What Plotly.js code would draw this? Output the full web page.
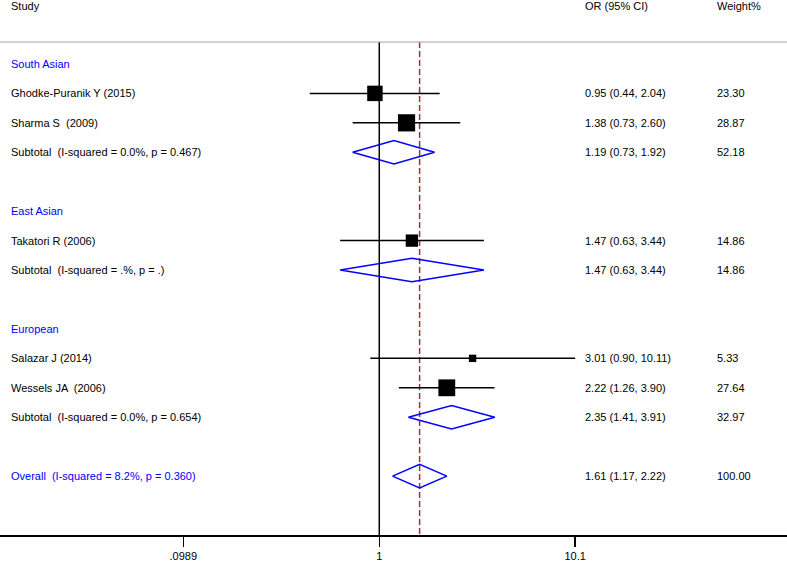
<!DOCTYPE html>
<html>
<head>
<meta charset="utf-8">
<script src="https://cdn.plot.ly/plotly-3.0.1.min.js"></script>
<style>
html,body{margin:0;padding:0;background:#fff;}
#chart{width:787px;height:561px;}
</style>
</head>
<body>
<div id="chart"></div>
<script>
// ---- data ----
const studies = ["Ghodke-Puranik Y (2015)", "Sharma S  (2009)", "Takatori R (2006)", "Salazar J (2014)", "Wessels JA  (2006)"];
const studyRows = [2, 3, 7, 11, 12];
const studyOR = [0.95, 1.38, 1.47, 3.01, 2.22];
const studyLo = [0.44, 0.73, 0.63, 0.90, 1.26];
const studyHi = [2.04, 2.60, 3.44, 10.11, 3.90];
const studyWeight = ["23.30", "28.87", "14.86", "5.33", "27.64"];

const groups = ["South Asian", "East Asian", "European"];
const groupRows = [1, 6, 10];

const subtotalLabels = ["Subtotal  (I-squared = 0.0%, p = 0.467)", "Subtotal  (I-squared = .%, p = .)", "Subtotal  (I-squared = 0.0%, p = 0.654)"];
const subtotalRows = [4, 8, 13];
const subtotalOR = [1.19, 1.47, 2.35];
const subtotalLo = [0.73, 0.63, 1.41];
const subtotalHi = [1.92, 3.44, 3.91];
const subtotalWeight = ["52.18", "14.86", "32.97"];

const overallLabel = "Overall  (I-squared = 8.2%, p = 0.360)";
const overallRow = 15;
const overallOR = 1.61;
const overallLo = 1.17;
const overallHi = 2.22;
const overallWeight = "100.00";

const tickVals = [0.0989, 1, 10.1];
const tickText = [".0989", "1", "10.1"];

// ---- build ----
const W = 787;
const FONT = "'Liberation Sans', Arial, sans-serif";
const BLUE = "#0000ff";
const fmt = v => v.toFixed(2);
const orText = (o, l, h) => fmt(o) + " (" + fmt(l) + ", " + fmt(h) + ")";

const traces = [];

// reference line at 1
traces.push({x: [1, 1], y: [0.254, 17], mode: "lines", line: {color: "#000", width: 1.5}, hoverinfo: "skip", cliponaxis: false});
// overall effect dashed line
traces.push({x: [overallOR, overallOR], y: [0.254, 17], mode: "lines", line: {color: "#a0303a", width: 1.5, dash: "6px,3px"}, hoverinfo: "skip", cliponaxis: false});

// CI lines
const ciX = [], ciY = [];
studyOR.forEach((o, i) => { ciX.push(studyLo[i], studyHi[i], null); ciY.push(studyRows[i], studyRows[i], null); });
traces.push({x: ciX, y: ciY, mode: "lines", line: {color: "#000", width: 1.5}, hoverinfo: "skip", cliponaxis: false});

// boxes
traces.push({
  x: studyOR, y: studyRows, mode: "markers", hoverinfo: "skip", opacity: 1,
  marker: {symbol: "square", color: "rgb(0,0,0)", opacity: 1,
           size: studyWeight.map(w => 3.2 * Math.sqrt(parseFloat(w))), line: {width: 0, color: "rgb(0,0,0)"}}
});

// diamonds
const h = 0.4;
const dX = [], dY = [];
const addDiamond = (o, l, hi, r) => { dX.push(l, o, hi, o, l, null); dY.push(r, r - h, r, r + h, r, null); };
subtotalOR.forEach((o, i) => addDiamond(o, subtotalLo[i], subtotalHi[i], subtotalRows[i]));
addDiamond(overallOR, overallLo, overallHi, overallRow);
traces.push({x: dX, y: dY, mode: "lines", line: {color: BLUE, width: 1.5}, hoverinfo: "skip", cliponaxis: false});

// annotations
const ann = [];
const txt = (px, row, text, color) => ann.push({
  xref: "paper", yref: "y", x: px / W, y: row, text: text, showarrow: false,
  xanchor: "left", yanchor: "middle", font: {family: FONT, size: 11, color: color || "#000"}
});
const xLab = 9, xOR = 583, xW = 715;
// header
[["Study", xLab], ["OR (95% CI)", xOR], ["Weight%", xW]].forEach(([t, px]) => ann.push({
  xref: "paper", yref: "paper", x: px / W, y: 1.0735, text: t, showarrow: false,
  xanchor: "left", yanchor: "middle", font: {family: FONT, size: 11, color: "#000"}
}));
groups.forEach((g, i) => txt(xLab, groupRows[i], g, BLUE));
studies.forEach((s, i) => {
  txt(xLab, studyRows[i], s);
  txt(xOR, studyRows[i], orText(studyOR[i], studyLo[i], studyHi[i]));
  txt(xW, studyRows[i], studyWeight[i]);
});
subtotalLabels.forEach((s, i) => {
  txt(xLab, subtotalRows[i], s);
  txt(xOR, subtotalRows[i], orText(subtotalOR[i], subtotalLo[i], subtotalHi[i]));
  txt(xW, subtotalRows[i], subtotalWeight[i]);
});
txt(xLab, overallRow, overallLabel, BLUE);
txt(xOR, overallRow, orText(overallOR, overallLo, overallHi));
txt(xW, overallRow, overallWeight);

const layout = {
  width: 787, height: 561,
  margin: {l: 0, r: 0, t: 42, b: 26, pad: 0},
  paper_bgcolor: "#fff", plot_bgcolor: "#fff",
  showlegend: false,
  font: {family: FONT, size: 11, color: "#000"},
  xaxis: {
    type: "log", range: [-1.945, 2.091], fixedrange: true,
    showgrid: false, zeroline: false,
    showline: true, linecolor: "#000", linewidth: 1.5,
    ticks: "outside", ticklen: 10, tickwidth: 1.5, tickcolor: "#000",
    tickvals: tickVals, ticktext: tickText,
    tickfont: {family: FONT, size: 11, color: "#000"}
  },
  yaxis: {range: [17, 0.254], visible: false, fixedrange: true},
  shapes: [{type: "line", xref: "paper", yref: "paper", x0: 0, x1: 1, y0: 1, y1: 1, line: {color: "#a8a8a8", width: 1.2}}],
  annotations: ann
};

Plotly.newPlot("chart", traces, layout, {staticPlot: true, displayModeBar: false});
</script>
</body>
</html>
